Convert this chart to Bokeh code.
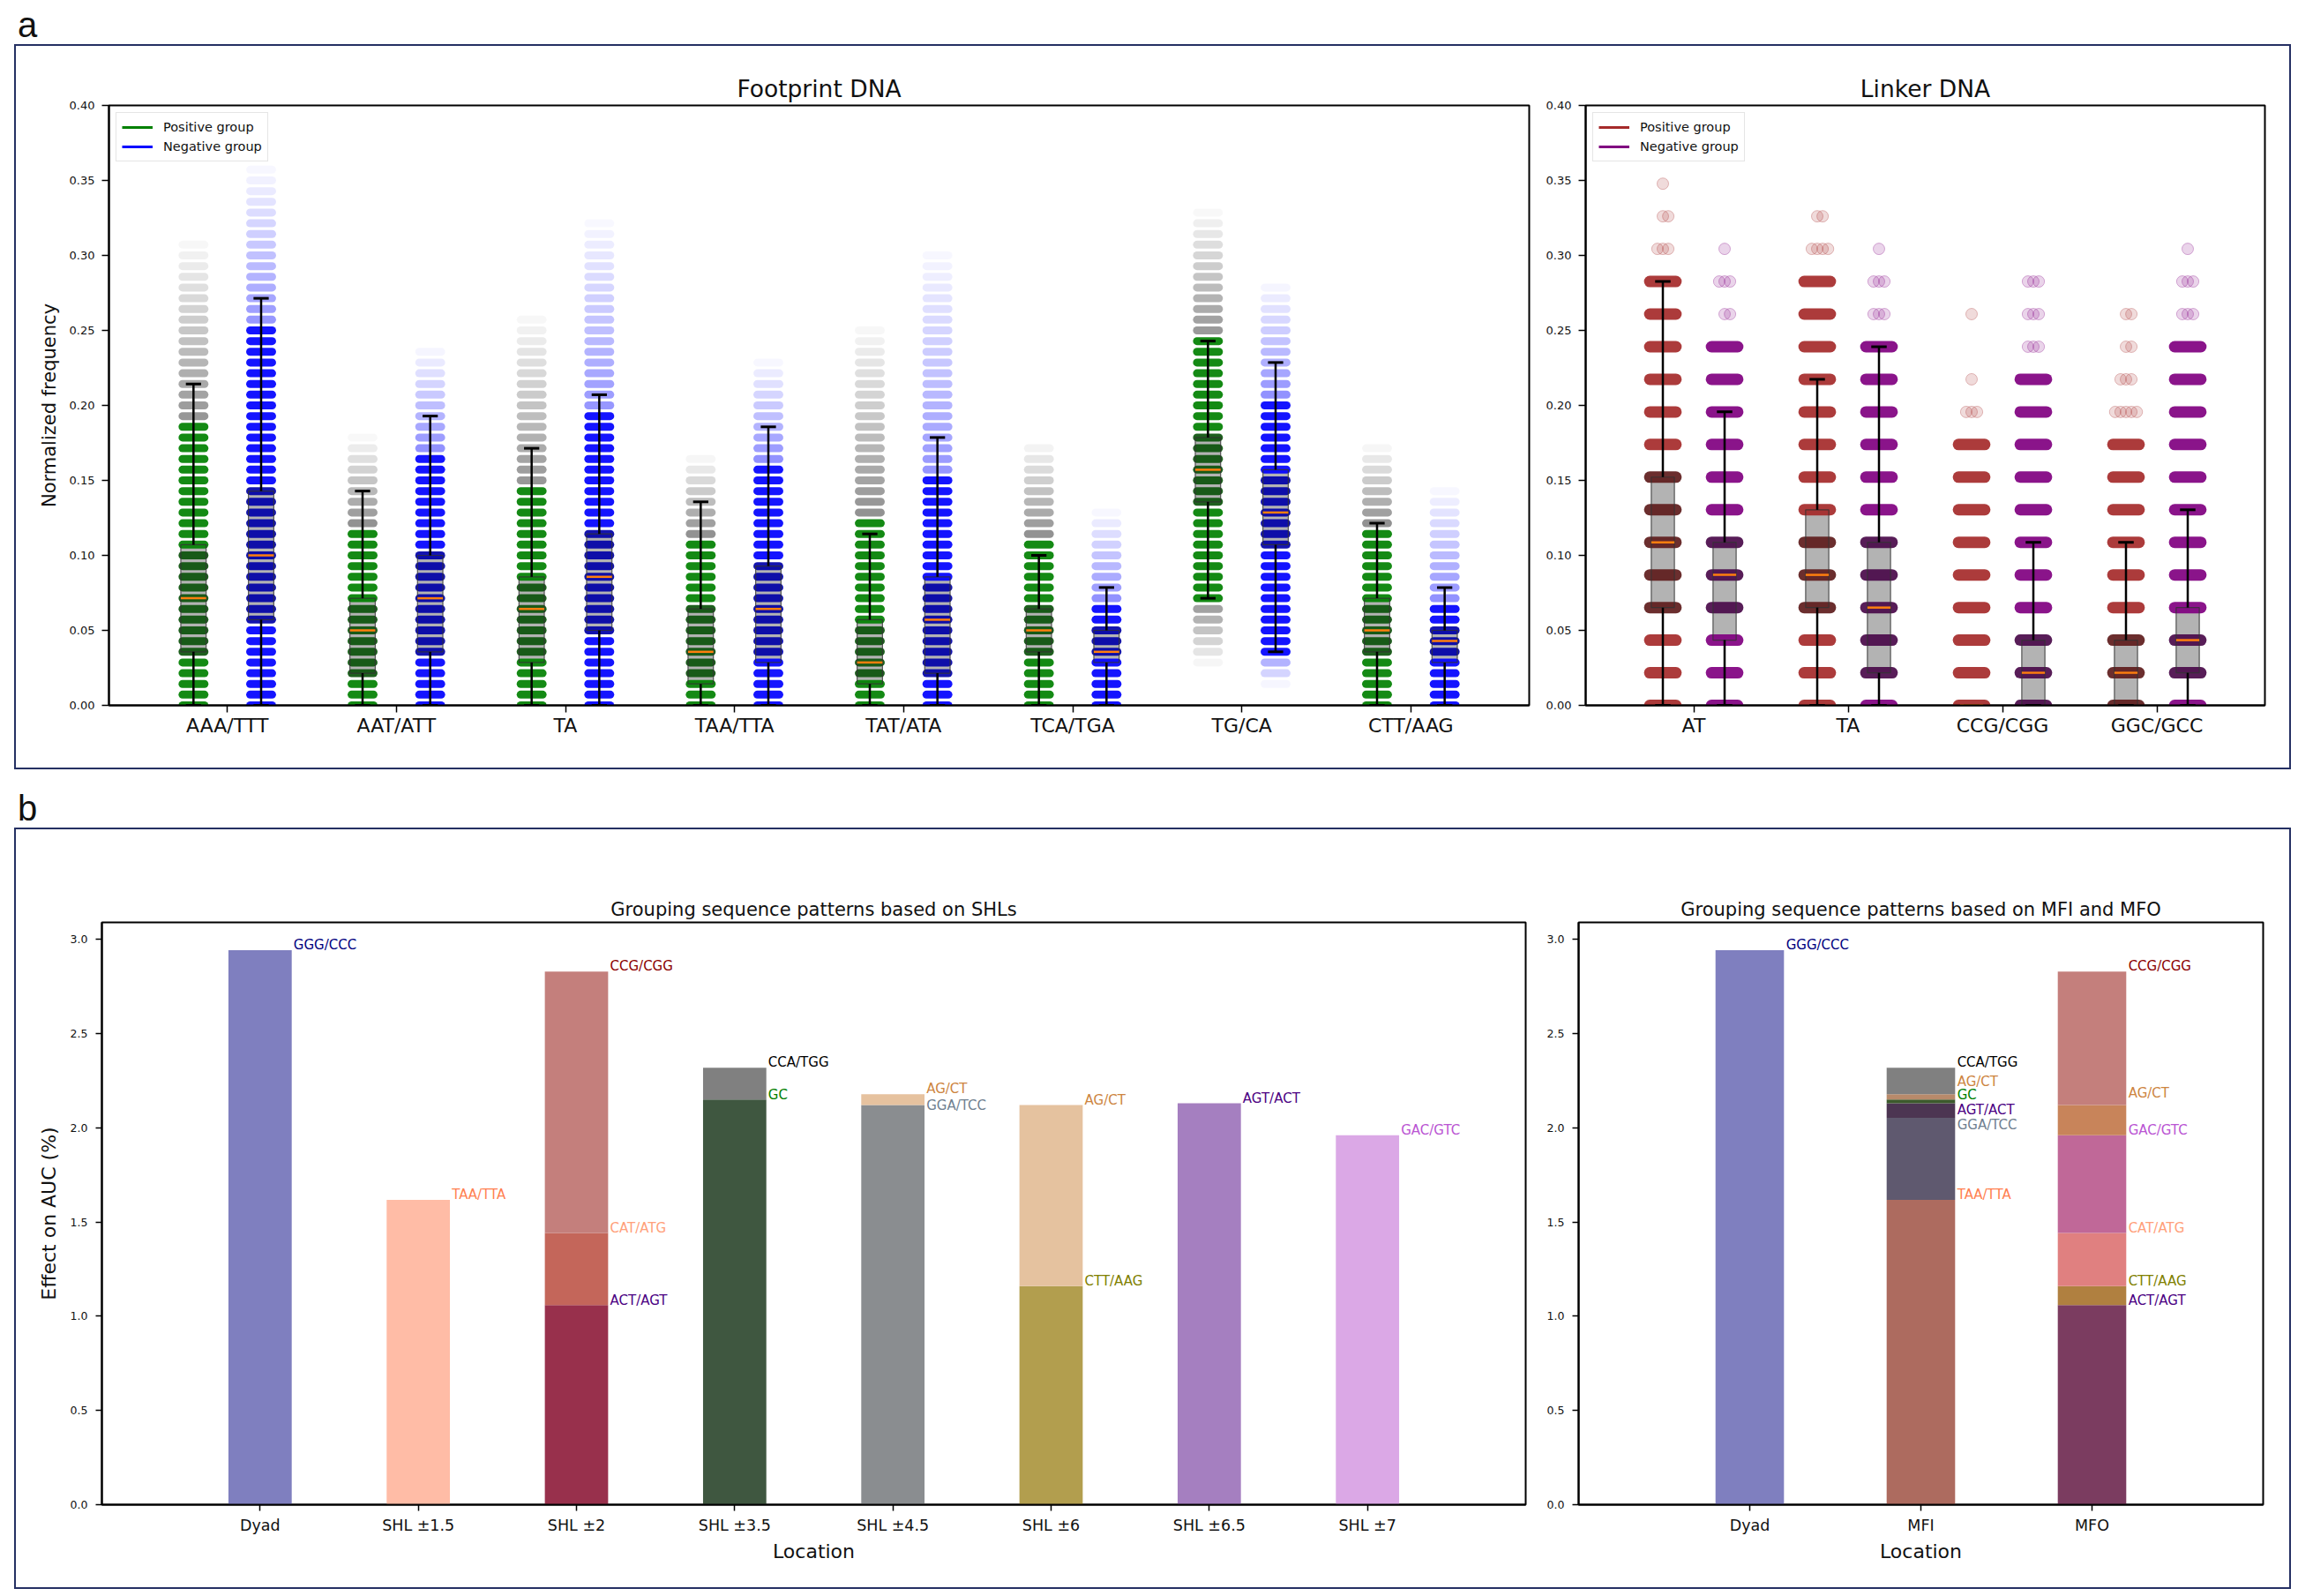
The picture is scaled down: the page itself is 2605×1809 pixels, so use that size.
from bokeh.plotting import figure
from bokeh.models import (ColumnDataSource, FixedTicker, Legend, LegendItem, Div,
                          Range1d, NumeralTickFormatter, Spacer)
from bokeh.layouts import row, column
from bokeh.embed import file_html
from bokeh.resources import INLINE
from bokeh.core.properties import value

FONT = "DejaVu Sans"
NAN = float("nan")

# ---------------- Panel a : Footprint DNA (normalized frequency, quantised in 1/140 steps)
FP_STEP = 1 / 140
fp_categories = ["AAA/TTT", "AAT/ATT", "TA", "TAA/TTA", "TAT/ATA", "TCA/TGA", "TG/CA", "CTT/AAG"]
fp_pos_q1 = [0.0357, 0.0214, 0.0286, 0.0143, 0.0143, 0.0357, 0.1357, 0.0357]
fp_pos_med = [0.0714, 0.0500, 0.0643, 0.0357, 0.0286, 0.0500, 0.1571, 0.0500]
fp_pos_q3 = [0.1071, 0.0714, 0.0857, 0.0643, 0.0571, 0.0643, 0.1786, 0.0714]
fp_pos_lo = [0.0, 0.0, 0.0, 0.0, 0.0, 0.0, 0.0714, 0.0]
fp_pos_hi = [0.2143, 0.1429, 0.1714, 0.1357, 0.1143, 0.1000, 0.2429, 0.1214]
fp_pos_color_top = [0.186, 0.121, 0.143, 0.114, 0.128, 0.114, 0.243, 0.121]
fp_pos_pts_top = [0.307, 0.178, 0.257, 0.165, 0.250, 0.174, 0.328, 0.172]
fp_pos_pts_bottom = [0.0, 0.0, 0.0, 0.0, 0.0, 0.0, 0.028, 0.0]

fp_neg_q1 = [0.0571, 0.0357, 0.0500, 0.0286, 0.0214, 0.0286, 0.1071, 0.0286]
fp_neg_med = [0.1000, 0.0714, 0.0857, 0.0643, 0.0571, 0.0357, 0.1286, 0.0429]
fp_neg_q3 = [0.1429, 0.1000, 0.1143, 0.0929, 0.0857, 0.0500, 0.1571, 0.0500]
fp_neg_lo = [0.0, 0.0, 0.0, 0.0, 0.0, 0.0, 0.0357, 0.0]
fp_neg_hi = [0.2714, 0.1929, 0.2071, 0.1857, 0.1786, 0.0786, 0.2286, 0.0786]
fp_neg_color_top = [0.250, 0.171, 0.193, 0.164, 0.150, 0.071, 0.207, 0.071]
fp_neg_pts_top = [0.357, 0.237, 0.321, 0.229, 0.300, 0.129, 0.280, 0.143]
fp_neg_pts_bottom = [0.0, 0.0, 0.0, 0.0, 0.0, 0.0, 0.014, 0.0]

# ---------------- Panel a : Linker DNA (quantised in 1/46 steps)
LK_STEP = 1 / 46
lk_categories = ["AT", "TA", "CCG/CGG", "GGC/GCC"]
lk_pos_q1 = [0.0652, 0.0652, 0.0, 0.0]
lk_pos_med = [0.1087, 0.0870, 0.0, 0.0217]
lk_pos_q3 = [0.1522, 0.1304, 0.0, 0.0435]
lk_pos_lo = [0.0, 0.0, 0.0, 0.0]
lk_pos_hi = [0.2826, 0.2174, 0.0, 0.1087]
lk_pos_dense_top = [0.2826, 0.2826, 0.1739, 0.1739]
lk_pos_tail_counts = [[3, 2, 1], [4, 2], [3, 1, 0, 1], [5, 3, 2, 2]]

lk_neg_q1 = [0.0435, 0.0217, 0.0, 0.0217]
lk_neg_med = [0.0870, 0.0652, 0.0217, 0.0435]
lk_neg_q3 = [0.1087, 0.1087, 0.0435, 0.0652]
lk_neg_lo = [0.0, 0.0, 0.0, 0.0]
lk_neg_hi = [0.1957, 0.2391, 0.1087, 0.1304]
lk_neg_dense_top = [0.2391, 0.2391, 0.2174, 0.2391]
lk_neg_tail_counts = [[2, 3, 1], [3, 3, 1], [3, 3, 3], [3, 3, 1]]

# ---------------- Panel b : effect on AUC (%)
shl_locations = ["Dyad", "SHL \u00b11.5", "SHL \u00b12", "SHL \u00b13.5", "SHL \u00b14.5",
                 "SHL \u00b16", "SHL \u00b16.5", "SHL \u00b17"]
shl_patterns = [["GGG/CCC"], ["TAA/TTA"], ["ACT/AGT", "CAT/ATG", "CCG/CGG"], ["GC", "CCA/TGG"],
                ["GGA/TCC", "AG/CT"], ["CTT/AAG", "AG/CT"], ["AGT/ACT"], ["GAC/GTC"]]
shl_values = [[2.942], [1.617], [1.059, 1.441, 2.828], [2.149, 2.318],
              [2.120, 2.178], [1.160, 2.120], [2.130], [1.960]]
shl_bar_colors = [["#7f7fbf"], ["#ffbca6"], ["#98304c", "#c4665a", "#c47f7c"], ["#3f5740", "#808080"],
                  ["#8a8d90", "#e6c29f"], ["#b29e4e", "#e5c29f"], ["#a57fc0"], ["#dba8e6"]]
shl_label_y = [[2.968], [1.644], [1.085, 1.465, 2.857], [2.176, 2.345],
               [2.118, 2.207], [1.185, 2.147], [2.156], [1.987]]

mf_locations = ["Dyad", "MFI", "MFO"]
mf_patterns = [["GGG/CCC"],
               ["TAA/TTA", "GGA/TCC", "AGT/ACT", "GC", "AG/CT", "CCA/TGG"],
               ["ACT/AGT", "CTT/AAG", "CAT/ATG", "GAC/GTC", "AG/CT", "CCG/CGG"]]
mf_values = [[2.942],
             [1.617, 2.052, 2.130, 2.149, 2.178, 2.318],
             [1.059, 1.160, 1.441, 1.960, 2.120, 2.828]]
mf_bar_colors = [["#7f7fbf"],
                 ["#ad6b5f", "#5f596f", "#4c3552", "#3c5a2c", "#b88a6b", "#808080"],
                 ["#7b3c60", "#b08040", "#e08080", "#c06898", "#c8845a", "#c47f7c"]]
mf_label_y = [[2.968],
              [1.644, 2.016, 2.096, 2.176, 2.246, 2.347],
              [1.085, 1.185, 1.465, 1.987, 2.185, 2.857]]

pattern_colors = {"GGG/CCC": "#000080", "TAA/TTA": "#ff7f50", "CCG/CGG": "#8b0000",
                  "CAT/ATG": "#ffa07a", "ACT/AGT": "#4b0082", "CCA/TGG": "#000000",
                  "GC": "#008000", "AG/CT": "#cd853f", "GGA/TCC": "#708090",
                  "CTT/AAG": "#808000", "AGT/ACT": "#4b0082", "GAC/GTC": "#ba55d3"}


def style_axes(p, xt_size, yt_size, tick_out, xstand, ystand):
    p.xgrid.visible = False
    p.ygrid.visible = False
    p.outline_line_color = "black"
    p.outline_line_width = 2
    p.outline_line_alpha = 1
    p.background_fill_color = "white"
    p.border_fill_color = "white"
    for ax in (p.xaxis[0], p.yaxis[0]):
        ax.axis_line_color = "black"
        ax.axis_line_width = 2
        ax.major_tick_line_color = "black"
        ax.major_tick_line_width = 1.5
        ax.major_tick_out = tick_out
        ax.major_tick_in = 0
        ax.minor_tick_line_color = None
        ax.major_label_text_font = FONT
        ax.axis_label_text_font = FONT
        ax.axis_label_text_font_style = "normal"
        ax.major_label_text_color = "#111111"
        ax.axis_label_text_color = "#111111"
    p.xaxis[0].major_label_text_font_size = xt_size
    p.yaxis[0].major_label_text_font_size = yt_size
    p.xaxis[0].major_label_standoff = xstand
    p.yaxis[0].major_label_standoff = ystand
    p.title.text_font = FONT
    p.title.text_font_style = "normal"
    p.title.align = "center"
    p.title.text_color = "#111111"


def add_legend(p, c_pos, c_neg):
    r1 = p.line(x=[NAN], y=[NAN], line_color=c_pos, line_width=3)
    r2 = p.line(x=[NAN], y=[NAN], line_color=c_neg, line_width=3)
    leg = Legend(items=[LegendItem(label="Positive group", renderers=[r1]),
                        LegendItem(label="Negative group", renderers=[r2])],
                 location="top_left")
    leg.label_text_font = FONT
    leg.label_text_font_size = "14.5px"
    leg.label_text_color = "#111111"
    leg.glyph_width = 35
    leg.glyph_height = 20
    leg.label_height = 20
    leg.label_standoff = 12
    leg.spacing = 2
    leg.padding = 6
    leg.margin = 8
    leg.border_line_color = "#cccccc"
    leg.border_line_width = 1.5
    leg.background_fill_alpha = 0.85
    p.add_layout(leg)


def box_source(xs, q1, med, q3, lo, hi, box_w, cap_w):
    return ColumnDataSource(dict(x=xs, l=[x - box_w / 2 for x in xs], r=[x + box_w / 2 for x in xs],
                                 q1=q1, q3=q3, med=med, lo=lo, hi=hi,
                                 cl=[x - cap_w / 2 for x in xs], cr=[x + cap_w / 2 for x in xs]))


def draw_box_lines(p, bsrc):
    p.quad(left="l", right="r", bottom="q1", top="q3", source=bsrc,
           fill_color=None, line_color="#333333", line_width=1.2, line_alpha=0.8)
    p.segment(x0="x", y0="q3", x1="x", y1="hi", source=bsrc, line_color="black", line_width=2.5)
    p.segment(x0="x", y0="q1", x1="x", y1="lo", source=bsrc, line_color="black", line_width=2.5)
    p.segment(x0="cl", y0="hi", x1="cr", y1="hi", source=bsrc, line_color="black", line_width=3)
    p.segment(x0="cl", y0="lo", x1="cr", y1="lo", source=bsrc, line_color="black", line_width=3)
    p.segment(x0="l", y0="med", x1="r", y1="med", source=bsrc, line_color="#ff7f0e", line_width=2.5)


# ====================== Footprint DNA figure
p_fp = figure(width=1723, height=818, output_backend="svg", toolbar_location=None,
              x_range=Range1d(-0.7, 7.7), y_range=Range1d(0, 0.4),
              min_border_left=105, min_border_right=8, min_border_top=67, min_border_bottom=71,
              title="Footprint DNA")
style_axes(p_fp, "22px", "13px", 8, 2, 8)
p_fp.title.text_font_size = "26.5px"
p_fp.title.standoff = 8
p_fp.xaxis.ticker = FixedTicker(ticks=list(range(len(fp_categories))))
p_fp.xaxis.major_label_overrides = {i: c for i, c in enumerate(fp_categories)}
p_fp.yaxis.ticker = FixedTicker(ticks=[0, 0.05, 0.1, 0.15, 0.2, 0.25, 0.3, 0.35, 0.4])
p_fp.yaxis.formatter = NumeralTickFormatter(format="0.00")
p_fp.yaxis.axis_label = "Normalized frequency"
p_fp.yaxis.axis_label_text_font_size = "21px"
p_fp.yaxis.axis_label_standoff = 8

fp_groups = [
    (-0.2, fp_pos_q1, fp_pos_med, fp_pos_q3, fp_pos_lo, fp_pos_hi, fp_pos_color_top,
     fp_pos_pts_top, fp_pos_pts_bottom, "#008000", "#0b520b", "#000000"),
    (0.2, fp_neg_q1, fp_neg_med, fp_neg_q3, fp_neg_lo, fp_neg_hi, fp_neg_color_top,
     fp_neg_pts_top, fp_neg_pts_bottom, "#0000ff", "#0000a8", "#0000ff"),
]

box_w_fp, cap_w_fp = 0.15, 0.09
fp_boxes = []
for (off, q1, med, q3, lo, hi, ctop, ptop, pbot, col, dark, faint) in fp_groups:
    xs = [i + off for i in range(len(fp_categories))]
    bsrc = box_source(xs, q1, med, q3, lo, hi, box_w_fp, cap_w_fp)
    fp_boxes.append(bsrc)
    p_fp.quad(left="l", right="r", bottom="q1", top="q3", source=bsrc,
              fill_color="#808080", fill_alpha=0.6, line_color=None)
    sx0, sx1, sy, sc, sa = [], [], [], [], []
    for i, x in enumerate(xs):
        k0 = int(round(pbot[i] / FP_STEP))
        k1 = int(round(ptop[i] / FP_STEP))
        for k in range(k0, k1 + 1):
            y = k * FP_STEP
            if lo[i] - 1e-6 <= y <= ctop[i] + 1e-6:
                c = dark if (q1[i] - 1e-6 <= y <= q3[i] + 1e-6) else col
                a = 0.92
            elif y > ctop[i]:
                d = (y - ctop[i]) / max(ptop[i] - ctop[i], 1e-6)
                c, a = faint, 0.40 * (1 - d) + 0.03
            else:
                d = (lo[i] - y) / max(lo[i] - pbot[i], 1e-6)
                c, a = faint, 0.40 * (1 - d) + 0.03
            sx0.append(x - 0.065)
            sx1.append(x + 0.065)
            sy.append(y)
            sc.append(c)
            sa.append(a)
    ssrc = ColumnDataSource(dict(x0=sx0, x1=sx1, y=sy, c=sc, a=sa))
    p_fp.segment(x0="x0", y0="y", x1="x1", y1="y", source=ssrc, line_color="c",
                 line_alpha="a", line_width=9, line_cap="round")

for bsrc in fp_boxes:
    draw_box_lines(p_fp, bsrc)

add_legend(p_fp, "#008000", "#0000ff")

# ====================== Linker DNA figure
p_lk = figure(width=854, height=818, output_backend="svg", toolbar_location=None,
              x_range=Range1d(-0.7, 3.7), y_range=Range1d(0, 0.4),
              min_border_left=56, min_border_right=28, min_border_top=67, min_border_bottom=71,
              title="Linker DNA")
style_axes(p_lk, "22px", "13px", 8, 2, 8)
p_lk.title.text_font_size = "26.5px"
p_lk.title.standoff = 8
p_lk.xaxis.ticker = FixedTicker(ticks=list(range(len(lk_categories))))
p_lk.xaxis.major_label_overrides = {i: c for i, c in enumerate(lk_categories)}
p_lk.yaxis.ticker = FixedTicker(ticks=[0, 0.05, 0.1, 0.15, 0.2, 0.25, 0.3, 0.35, 0.4])
p_lk.yaxis.formatter = NumeralTickFormatter(format="0.00")

lk_groups = [
    (-0.2, lk_pos_q1, lk_pos_med, lk_pos_q3, lk_pos_lo, lk_pos_hi, lk_pos_dense_top,
     lk_pos_tail_counts, "#a52a2a", "#5e1c1c"),
    (0.2, lk_neg_q1, lk_neg_med, lk_neg_q3, lk_neg_lo, lk_neg_hi, lk_neg_dense_top,
     lk_neg_tail_counts, "#800080", "#4a0a4a"),
]
tail_offsets = [0.0, 0.035, -0.035, 0.07, -0.07]
box_w_lk, cap_w_lk = 0.15, 0.10
lk_boxes = []
for (off, q1, med, q3, lo, hi, dtop, tails, col, dark) in lk_groups:
    xs = [i + off for i in range(len(lk_categories))]
    bsrc = box_source(xs, q1, med, q3, lo, hi, box_w_lk, cap_w_lk)
    lk_boxes.append(bsrc)
    p_lk.quad(left="l", right="r", bottom="q1", top="q3", source=bsrc,
              fill_color="#808080", fill_alpha=0.6, line_color=None)
    sx0, sx1, sy, sc = [], [], [], []
    tx, ty = [], []
    for i, x in enumerate(xs):
        kd = int(round(dtop[i] / LK_STEP))
        for k in range(0, kd + 1):
            y = k * LK_STEP
            inbox = (q3[i] > q1[i]) and (q1[i] - 1e-6 <= y <= q3[i] + 1e-6)
            sx0.append(x - 0.085)
            sx1.append(x + 0.085)
            sy.append(y)
            sc.append(dark if inbox else col)
        for j, n in enumerate(tails[i]):
            y = (kd + 1 + j) * LK_STEP
            for m in range(n):
                tx.append(x + tail_offsets[m])
                ty.append(y)
    ssrc = ColumnDataSource(dict(x0=sx0, x1=sx1, y=sy, c=sc))
    p_lk.segment(x0="x0", y0="y", x1="x1", y1="y", source=ssrc, line_color="c",
                 line_alpha=0.92, line_width=13, line_cap="round")
    p_lk.scatter(x=tx, y=ty, marker="circle", size=13, fill_color=col, fill_alpha=0.17,
                 line_color=col, line_alpha=0.3)

for bsrc in lk_boxes:
    draw_box_lines(p_lk, bsrc)

add_legend(p_lk, "#a52a2a", "#800080")


# ====================== Panel b bar figures
def bar_figure(locations, patterns, values, colors, label_y, width, mb_left, mb_right, title, ylabel):
    p = figure(width=width, height=859, output_backend="svg", toolbar_location=None,
               x_range=Range1d(-1, len(locations)), y_range=Range1d(0, 3.089),
               min_border_left=mb_left, min_border_right=mb_right,
               min_border_top=105, min_border_bottom=94, title=title)
    style_axes(p, "17.5px", "12.5px", 7, 6, 9)
    p.title.text_font_size = "21px"
    p.title.standoff = 6
    p.xaxis.ticker = FixedTicker(ticks=list(range(len(locations))))
    p.xaxis.major_label_overrides = {i: c for i, c in enumerate(locations)}
    p.yaxis.ticker = FixedTicker(ticks=[0, 0.5, 1.0, 1.5, 2.0, 2.5, 3.0])
    p.yaxis.formatter = NumeralTickFormatter(format="0.0")
    p.xaxis.axis_label = "Location"
    p.xaxis.axis_label_text_font_size = "22px"
    p.xaxis.axis_label_standoff = 4
    if ylabel:
        p.yaxis.axis_label = ylabel
        p.yaxis.axis_label_text_font_size = "22px"
        p.yaxis.axis_label_standoff = 9
    bx, bb, bt, bc = [], [], [], []
    lx, ly, lt, lc = [], [], [], []
    for i in range(len(locations)):
        prev = 0.0
        for pat, v, c, yl in zip(patterns[i], values[i], colors[i], label_y[i]):
            bx.append(i)
            bb.append(prev)
            bt.append(v)
            bc.append(c)
            prev = v
            lx.append(i + 0.212)
            ly.append(yl)
            lt.append(pat)
            lc.append(pattern_colors[pat])
    p.vbar(x="x", width=0.4, bottom="b", top="t", fill_color="c", line_color=None,
           source=ColumnDataSource(dict(x=bx, b=bb, t=bt, c=bc)))
    p.text(x="x", y="y", text="t", text_color="c", source=ColumnDataSource(dict(x=lx, y=ly, t=lt, c=lc)),
           text_font=value(FONT), text_font_size="15px", text_baseline="middle", text_align="left")
    return p


p_shl = bar_figure(shl_locations, shl_patterns, shl_values, shl_bar_colors, shl_label_y,
                   1719, 97, 8, "Grouping sequence patterns based on SHLs", "Effect on AUC (%)")
p_mf = bar_figure(mf_locations, mf_patterns, mf_values, mf_bar_colors, mf_label_y,
                  858, 52, 30, "Grouping sequence patterns based on MFI and MFO", None)

FRAME = {"border": "2px solid #253063", "box-sizing": "content-box"}
div_a = Div(text='<div style="font-family: \'Liberation Sans\', Arial, sans-serif; font-size: 40px; '
                 'line-height: 40px; padding-left: 20px; padding-top: 8px; color: #111;">a</div>',
            width=300, height=50, margin=(0, 0, 0, 0))
div_b = Div(text='<div style="font-family: \'Liberation Sans\', Arial, sans-serif; font-size: 40px; '
                 'line-height: 40px; padding-left: 20px; padding-top: 24px; color: #111;">b</div>',
            width=300, height=66, margin=(0, 0, 0, 0))
top_row = row(Spacer(width=16, height=818), row(p_fp, p_lk, styles=FRAME))
bottom_row = row(Spacer(width=16, height=859), row(p_shl, p_mf, styles=FRAME))
page = column(div_a, top_row, div_b, bottom_row)

open("out.html", "w").write(file_html(page, INLINE))
